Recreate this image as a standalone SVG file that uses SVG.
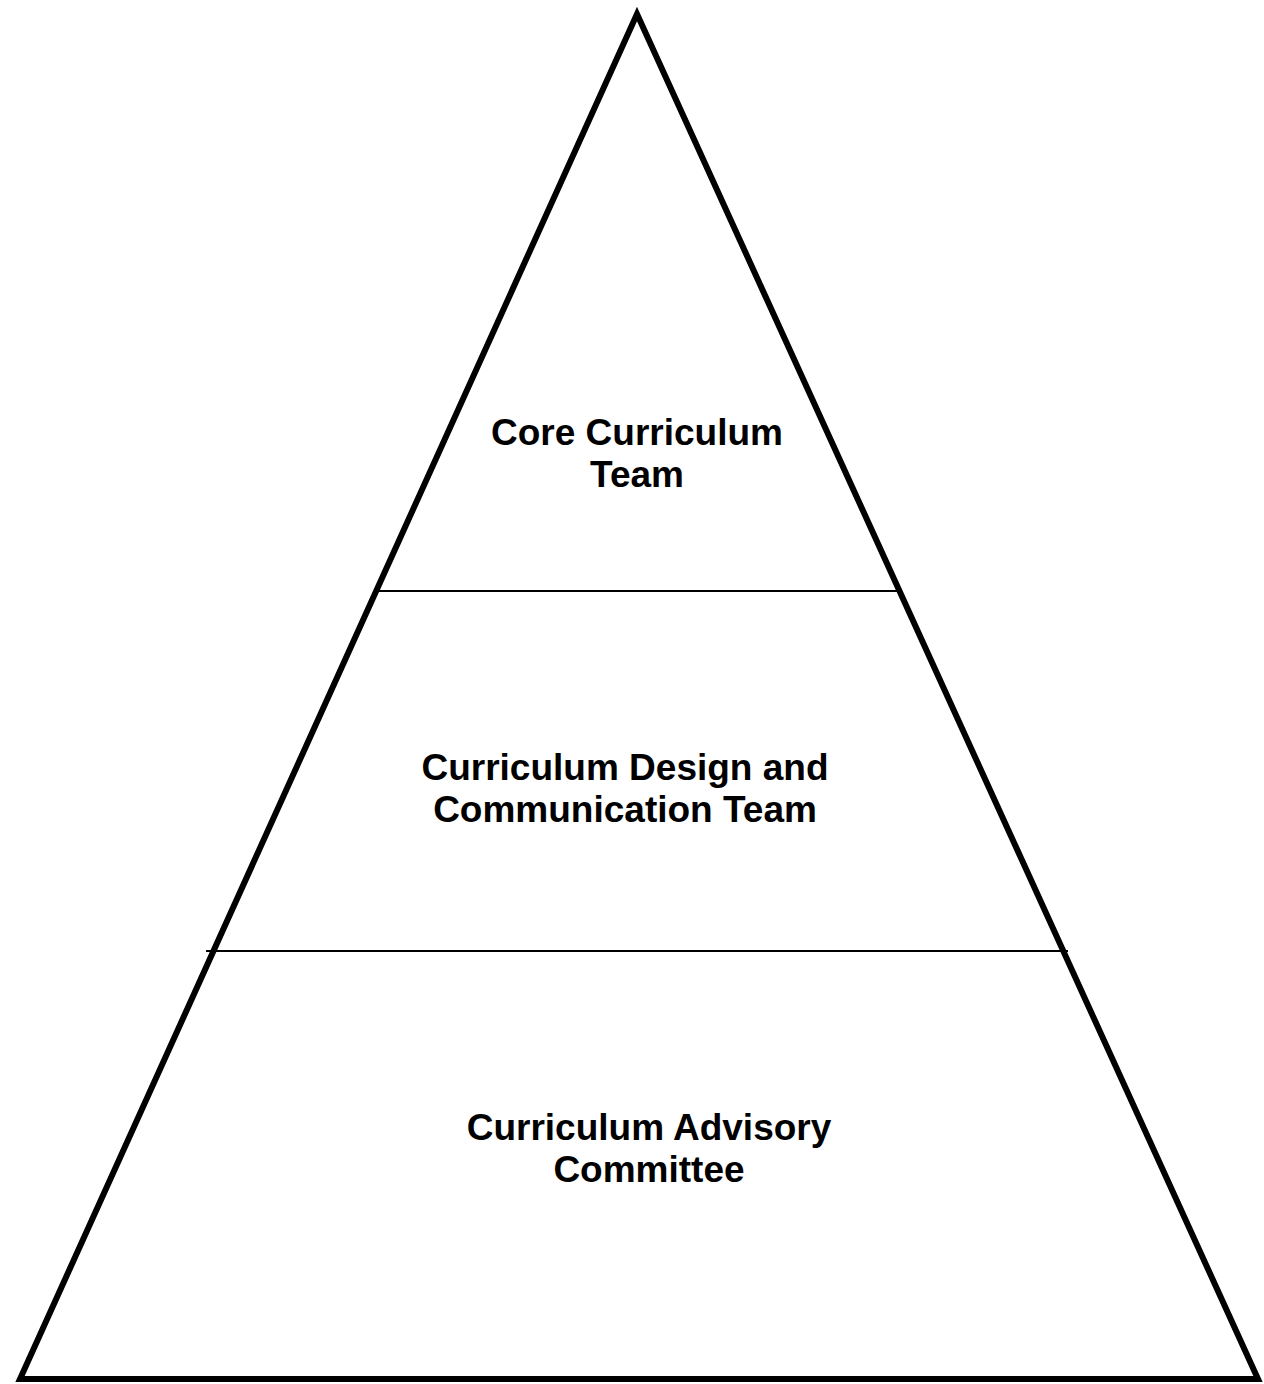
<svg xmlns="http://www.w3.org/2000/svg" width="1264" height="1384" viewBox="0 0 1264 1384">
<style>
.tri{fill:none;stroke:#000;stroke-width:6;stroke-linejoin:miter;stroke-miterlimit:10}
.div{stroke:#000;stroke-width:2}
.lbl{font-family:"Liberation Sans",Arial,sans-serif;font-weight:bold;font-size:37px;fill:#000;text-anchor:middle}
</style>
<rect width="1264" height="1384" fill="#fff"/>
<g id="pyramid">
<polygon class="tri" points="637,14 20,1379 1258,1379"/>
</g>
<g id="connectors">
<line class="div" x1="376" y1="591" x2="897" y2="591"/>
<line class="div" x1="206" y1="951" x2="1068" y2="951"/>
</g>
<g id="core">
<text class="lbl" x="637" y="445">Core Curriculum</text>
<text class="lbl" x="637" y="487">Team</text>
</g>
<g id="design">
<text class="lbl" x="625" y="780">Curriculum Design and</text>
<text class="lbl" x="625" y="822">Communication Team</text>
</g>
<g id="advisory">
<text class="lbl" x="649" y="1140">Curriculum Advisory</text>
<text class="lbl" x="649" y="1182">Committee</text>
</g>
</svg>
